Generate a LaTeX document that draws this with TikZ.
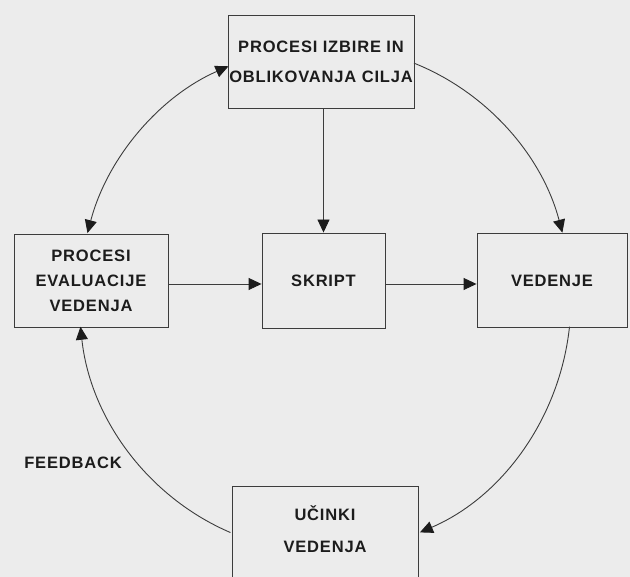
\documentclass[tikz,border=0pt]{standalone}
\usepackage{fontspec}
\setmainfont[LetterSpace=5]{Liberation Sans}
\usetikzlibrary{arrows.meta}
\definecolor{paper}{RGB}{236,236,236}
\definecolor{ink}{RGB}{28,28,28}
\definecolor{linec}{RGB}{60,60,60}
\tikzset{
  box/.style={draw=linec, line width=0.9pt, rectangle, inner sep=0pt},
  lbl/.style={text=ink, font=\fontsize{16.5}{30}\selectfont\bfseries, align=center},
  tip/.style={},
  arr/.style={draw=linec, line width=0.9pt, -{Triangle[length=13pt,width=12pt,color=ink]}},
  dblarr/.style={draw=linec, line width=0.9pt, {Triangle[length=13pt,width=12pt,color=ink]}-{Triangle[length=13pt,width=12pt,color=ink]}}
}
\begin{document}
\begin{tikzpicture}[x=1pt,y=1pt]
\useasboundingbox (0,0) rectangle (630,577);
\fill[paper] (0,0) rectangle (630,577);
\clip (0,0) rectangle (630,577);

% boxes
\node[box, lbl, minimum width=186, minimum height=93] (cilj) at (321,515.5) {PROCESI IZBIRE IN\\OBLIKOVANJA CILJA};
\node[box, lbl, font=\fontsize{16.5}{25}\selectfont\bfseries, minimum width=154, minimum height=93] (eval) at (91,296.5) {PROCESI\\EVALUACIJE\\VEDENJA};
\node[box, lbl, minimum width=123, minimum height=95] (skript) at (323.5,296.5) {SKRIPT};
\node[box, lbl, minimum width=150, minimum height=94] (vedenje) at (552,296.5) {VEDENJE};
\node[box, minimum width=186, minimum height=111] (ucinki) at (325,35.5) {};
\node[lbl, font=\fontsize{16.5}{32}\selectfont\bfseries] (ucinkitxt) at (325,48) {UČINKI\\VEDENJA};
\node[lbl] (feedback) at (73,114) {FEEDBACK};

% straight connectors
\draw[arr] (cilj.south -| skript.north) -- (skript.north);
\draw[arr] ([yshift=-3.5]eval.east) -- ([yshift=-3.5]skript.west);
\draw[arr] ([yshift=-3.5]skript.east) -- ([yshift=-3.5]vedenje.west);

% circular connectors
\coordinate (O) at (325,278);
\coordinate (a1) at ([shift={(164.9:246pt and 253pt)}]O);
\coordinate (a2) at ([shift={(68.8:246pt and 253pt)}]O);
\coordinate (a3) at ([shift={(-6.3:246pt and 253pt)}]O);
\coordinate (a4) at ([shift={(-112.6:246pt and 253pt)}]O);
\draw[dblarr] (a1) arc[start angle=164.9, end angle=113.1, x radius=246pt, y radius=253pt];
\draw[arr] (a2) arc[start angle=68.8, end angle=15.2, x radius=246pt, y radius=253pt];
\draw[arr] (a3) arc[start angle=-6.3, end angle=-67.3, x radius=246pt, y radius=253pt];
\draw[arr] (a4) arc[start angle=-112.6, end angle=-173.7, x radius=246pt, y radius=253pt];
\end{tikzpicture}
\end{document}
